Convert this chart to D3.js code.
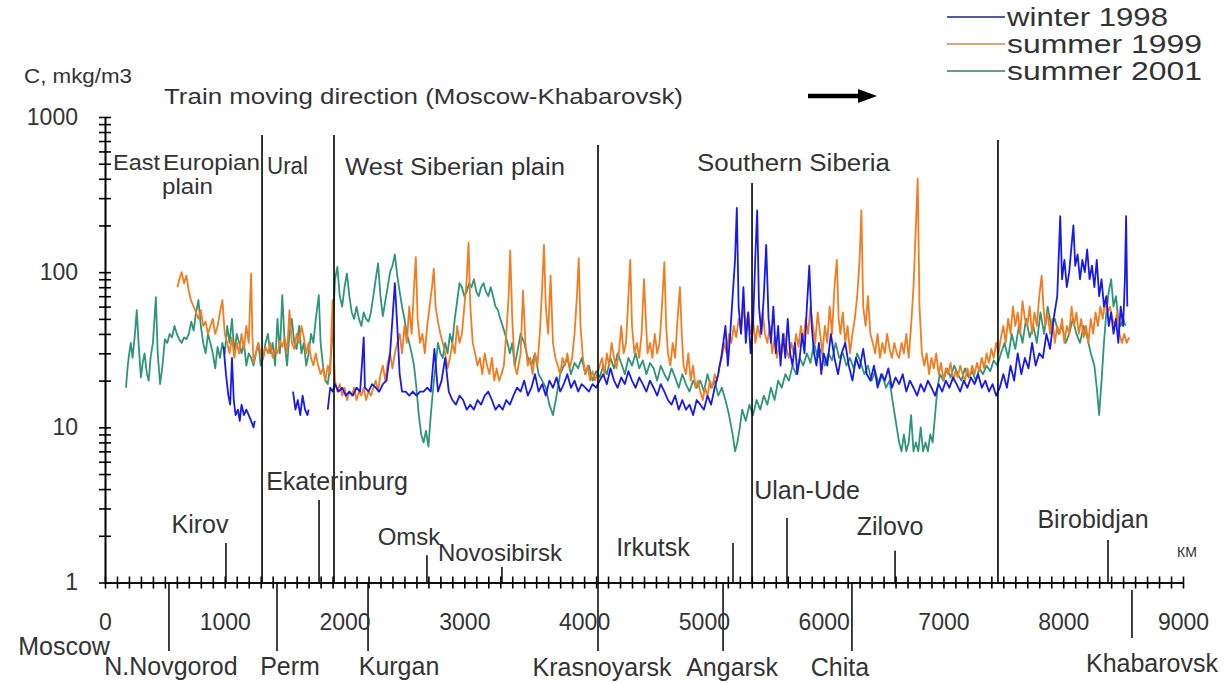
<!DOCTYPE html>
<html><head><meta charset="utf-8">
<script src="https://cdn.jsdelivr.net/npm/d3@7"></script>
<style>
html,body{margin:0;padding:0;background:#fff;}
svg text{font-family:"Liberation Sans",Arial,sans-serif;fill:#333;}
</style></head>
<body>
<svg id="c" width="1228" height="683"></svg>
<script>
// ---------- DATA ----------
const seriesNames = ["winter 1998","summer 1999","summer 2001"];
const xTickLabels = [0,1000,2000,3000,4000,5000,6000,7000,8000,9000];
const yTickLabels = [1,10,100,1000];

// [km, C mkg/m3]; null = gap
const winter1998 = [
[990,33],[1010,22],[1030,16],[1045,14],[1060,28],[1075,15],[1090,12],[1110,13],[1125,11],[1140,14],[1160,12],[1180,13],[1200,12],[1220,11],[1240,10],[1250,11],[1260,null],
[1570,17],[1590,13],[1610,15],[1630,12],[1650,16],[1670,13],[1690,12],[1700,13],[1710,null],
[1860,13],[1880,18],[1900,17],[1920,19],[1950,17],[1980,18],[2010,16],[2040,17],[2070,16],[2100,18],[2130,17],[2160,38],[2170,18],[2200,17],[2230,19],[2260,18],[2290,17],[2320,19],[2350,20],[2380,30],[2400,50],[2420,85],[2440,45],[2460,22],[2480,17],[2510,17],[2540,16],[2570,17],[2600,16],[2630,17],[2660,17],[2690,18],[2720,17],[2750,32],[2780,17],[2810,20],[2840,28],[2870,17],[2900,15],[2930,14],[2960,16],[2990,15],[3020,13],[3050,14],[3080,13],[3110,15],[3140,14],[3170,16],[3200,17],[3230,15],[3260,13],[3290,14],[3320,13],[3350,15],[3380,14],[3410,16],[3440,18],
[3470,17],[3500,20],[3530,16],[3560,18],[3590,22],[3620,17],[3650,19],[3680,16],[3710,20],[3740,18],[3770,21],[3800,17],[3830,19],[3860,22],[3890,18],[3920,20],[3950,17],[3980,19],[4010,18],[4040,17],[4070,19],[4100,18],[4130,20],
[4160,22],[4190,19],[4220,24],[4250,20],[4280,18],[4310,21],[4340,19],[4370,23],[4400,20],[4430,18],[4460,21],[4490,19],[4520,17],[4550,20],[4580,18],[4610,16],[4640,19],[4670,17],[4700,15],[4730,14],[4760,16],[4790,13],[4820,15],[4850,13],[4880,14],[4910,12],[4940,15],
[4970,14],[5000,13],[5030,16],[5060,14],[5090,18],[5120,22],[5150,30],[5180,45],[5200,25],[5220,40],[5240,70],[5260,120],[5275,260],[5290,60],[5310,40],[5330,80],[5350,35],[5370,55],[5390,30],[5410,45],[5430,130],[5445,250],[5460,60],[5480,40],[5500,70],[5520,150],[5540,50],[5560,35],[5580,60],[5600,30],[5620,45],[5640,25],[5660,40],[5680,28],[5700,50],[5720,30],[5740,25],[5760,35],[5780,22],[5800,28],[5820,40],[5840,30],[5860,60],[5880,110],[5900,45],[5920,30],[5940,25],[5960,35],[5980,22],[6000,30],[6030,25],[6060,40],[6090,28],[6120,22],[6150,30],[6180,35],[6210,25],[6240,20],[6270,28],[6300,24],[6330,32],[6360,22],[6390,20],[6420,25],[6450,18],[6480,22],[6510,20],[6540,24],[6570,18],[6600,21],
[6630,19],[6660,22],[6690,17],[6720,20],[6750,18],[6780,16],[6810,19],[6840,17],[6870,20],[6900,18],[6930,16],[6960,19],[6990,17],[7020,20],[7050,18],[7080,21],[7110,19],[7140,17],[7170,20],[7200,18],[7230,21],[7260,19],[7290,22],[7320,18],[7350,20],[7380,17],[7410,19],[7440,16],[7470,18],
[7500,22],[7530,18],[7560,25],[7590,20],[7620,30],[7650,22],[7680,28],[7710,24],[7740,35],[7770,25],[7800,30],[7830,28],[7860,40],[7890,32],[7920,50],[7950,70],
[7975,230],[7990,90],[8010,120],[8030,80],[8050,100],[8070,150],[8085,200],[8100,110],[8120,130],[8140,90],[8160,120],[8180,100],[8200,140],[8220,90],[8240,110],[8260,80],[8280,120],[8300,70],[8320,90],[8340,60],[8360,70],[8380,45],
[8400,55],[8420,40],[8440,50],[8460,35],[8480,60],[8500,45],[8515,90],[8525,230],[8535,60]
];

const summer1999 = [
[605,80],[620,90],[640,100],[660,85],[680,95],[700,75],[720,65],[740,60],[760,55],[780,50],[800,57],[820,45],[840,48],[860,40],[880,45],[900,50],[920,40],[940,45],[960,55],[980,66],[1000,40],[1020,35],[1040,30],[1060,38],[1080,28],[1100,35],[1120,30],[1140,40],[1160,32],[1180,45],[1200,35],[1210,60],[1220,98],[1230,40],[1240,26],[1260,30],
[1280,35],[1300,30],[1320,28],[1340,33],[1360,30],[1380,35],[1400,28],[1420,32],[1440,30],[1460,36],[1480,33],[1500,38],[1520,30],[1540,57],[1560,35],[1580,32],[1600,40],[1620,35],[1640,45],[1660,38],[1680,30],[1700,35],[1720,28],[1740,25],[1760,30],[1780,25],[1800,22],[1820,24],[1840,20],[1860,25],[1880,22],[1890,40],[1900,66],[1910,30],[1920,20],[1940,17],[1960,19],[1980,16],[2000,18],[2020,15],[2040,17],[2060,16],[2080,18],[2100,15],[2120,17],[2140,16],[2160,18],[2180,15],[2200,17],[2220,16],[2240,18],[2260,20],[2280,17],[2300,22],[2320,25],[2340,20],[2360,26],[2380,30],[2400,24],
[2420,30],[2440,35],[2460,40],[2480,30],[2500,45],[2520,35],[2540,60],[2560,40],[2580,80],[2595,125],[2610,50],[2630,35],[2650,40],[2670,30],[2690,45],[2710,60],[2730,80],[2745,105],[2760,60],[2780,48],[2800,40],[2820,35],[2840,30],[2860,24],[2880,28],[2900,35],[2920,30],[2940,45],[2960,35],[2980,40],[3000,60],[3020,90],[3035,155],[3050,60],[3070,35],[3090,30],[3110,25],[3130,28],[3150,22],[3170,30],[3190,25],[3210,22],[3230,28],[3250,20],[3270,24],[3290,20],[3310,22],[3330,25],[3350,40],[3370,70],[3383,138],[3400,50],[3420,25],[3440,22],
[3470,30],[3490,76],[3510,35],[3530,25],[3550,28],[3570,22],[3590,30],[3610,25],[3630,40],[3650,80],[3665,150],[3680,60],[3700,40],[3720,95],[3740,35],[3760,28],[3780,25],[3800,22],[3820,28],[3840,25],[3860,30],[3880,24],[3900,28],[3920,40],[3940,70],[3955,123],[3970,45],[3990,28],[4010,22],[4030,25],[4050,20],[4070,23],[4090,20],[4110,22],[4130,25],
[4150,28],[4170,22],[4190,30],[4210,25],[4230,35],[4250,28],[4270,24],[4290,30],[4310,45],[4330,30],[4350,35],[4370,70],[4385,120],[4400,45],[4420,30],[4440,35],[4460,28],[4480,40],[4500,90],[4515,50],[4530,30],[4550,35],[4570,28],[4590,40],[4610,30],[4630,35],[4650,60],[4670,116],[4685,45],[4700,30],[4720,25],[4740,35],[4760,28],[4780,50],[4800,80],[4815,40],[4830,25],[4850,22],[4870,30],[4890,20],[4910,25],[4930,18],[4950,20],
[4970,17],[4990,15],[5010,18],[5030,16],[5050,20],[5070,18],[5090,22],[5110,20],[5130,25],[5150,28],[5170,35],[5190,30],[5210,40],[5230,35],[5250,45],[5270,38],[5290,50],[5310,42],[5330,60],[5350,45],[5370,55],
[5390,40],[5410,50],[5430,35],[5450,45],[5470,38],[5490,55],[5510,40],[5530,35],[5550,45],[5570,30],[5590,38],[5610,28],[5630,35],[5650,30],[5670,40],[5690,32],[5710,28],[5730,35],[5750,30],[5770,40],[5790,33],
[5810,45],[5830,35],[5850,50],[5870,40],[5890,60],[5910,45],[5930,35],[5950,55],[5970,40],[5990,30],[6010,45],[6030,35],[6050,60],[6070,40],[6090,80],[6110,120],[6125,50],[6140,40],[6160,55],[6180,35],[6200,45],[6220,30],[6240,40],[6260,50],[6280,70],[6300,120],[6315,250],[6330,60],[6350,45],[6370,70],[6390,40],[6410,35],[6430,30],[6450,40],[6470,28],[6490,35],[6510,30],[6530,40],[6550,32],[6570,28],[6590,35],[6610,30],
[6630,28],[6650,35],[6670,30],[6690,40],[6710,28],[6730,45],[6750,80],[6770,200],[6785,400],[6800,60],[6820,30],[6840,25],[6860,30],[6880,22],[6900,28],[6920,24],[6940,30],[6960,22],[6980,26],[7000,20],[7020,24],[7040,22],[7060,26],[7080,20],[7100,23],[7120,21],[7140,25],[7160,22],[7180,20],[7200,24],[7220,21],[7240,25],[7260,22],[7280,26],[7300,23],[7320,28],[7340,24],[7360,30],[7380,26],[7400,32],[7420,28],[7440,35],[7460,30],
[7480,38],[7500,45],[7520,35],[7540,50],[7560,40],[7580,60],[7600,45],[7620,55],[7640,40],[7660,65],[7680,50],[7700,45],[7720,60],[7740,40],[7760,55],[7780,45],[7800,70],[7820,95],[7835,60],[7850,45],[7870,55],[7890,40],[7910,50],[7930,35],[7950,45],[7970,40],[7990,50],[8010,35],[8030,45],[8050,40],[8070,60],[8090,45],[8110,55],[8130,40],[8150,50],[8170,38],[8190,45],[8210,35],[8230,50],[8250,40],[8270,55],[8290,45],[8310,60],[8330,50],[8350,65],[8370,55],[8390,60],[8410,50],[8430,45],[8450,55],[8470,40],[8490,35],[8510,40],[8530,35],[8550,38]
];

const summer2001 = [
[175,18],[190,25],[200,29],[215,35],[230,28],[250,40],[265,57],[280,35],[300,21],[315,26],[330,30],[350,22],[365,20],[380,28],[400,35],[425,69],[440,30],[460,19],[480,25],[500,37],[520,35],[540,40],[560,38],[580,45],[600,40],[620,37],[640,35],[660,38],[680,37],[700,40],[720,48],[740,42],[760,55],[780,66],[800,45],[820,35],[840,30],[860,40],[880,35],[900,30],[920,24],[940,33],[960,28],[980,35],[1000,30],[1020,45],[1040,35],[1060,50],[1080,30],[1100,40],[1120,35],[1140,30],[1160,35],[1180,25],[1200,30],[1220,28],[1240,25],[1260,30],[1280,35],[1300,25],[1320,28],[1340,35],[1360,40],[1380,30],[1400,35],[1420,25],[1440,50],[1460,30],[1480,71],[1500,35],[1520,25],[1540,40],[1560,50],[1580,35],[1600,32],[1620,45],[1640,30],[1660,35],[1680,25],[1700,30],[1720,40],[1740,35],[1760,50],[1785,71],[1800,35],[1820,25],[1840,20],[1860,19],[1880,25],[1900,40],[1920,90],[1940,108],[1960,70],[1980,60],[2000,80],[2020,98],[2040,70],[2060,55],[2080,50],[2100,60],[2120,50],[2140,45],[2160,55],[2180,50],[2200,48],[2220,55],[2240,70],[2260,90],[2280,114],[2300,70],[2320,52],[2340,65],[2360,80],[2380,100],[2400,110],[2420,130],[2440,95],[2460,75],[2480,60],[2500,50],[2520,40],[2540,35],[2560,30],[2580,25],[2600,18],[2620,12],[2640,9],[2660,8],[2680,9.5],[2700,7.5],[2720,12],[2740,18],[2760,25],[2780,35],[2800,30],[2820,28],[2840,35],[2860,30],[2880,40],[2900,35],[2920,50],[2940,65],[2960,85],[2980,80],[3000,70],[3020,75],[3040,85],[3060,80],[3080,90],[3100,75],[3120,70],[3140,80],[3160,85],[3180,75],[3200,70],[3220,80],[3240,70],[3260,60],[3280,57],[3300,50],[3320,45],[3340,40],[3360,35],[3380,30],[3400,35],[3420,25],[3440,30],
[3470,40],[3500,35],[3530,28],[3560,25],[3590,30],[3620,22],[3650,20],[3680,18],[3710,14],[3740,12],[3770,16],[3800,22],[3830,25],[3860,28],[3890,22],[3920,26],[3950,24],[3980,28],[4010,22],[4040,25],[4070,20],[4100,23],[4130,21],
[4160,25],[4190,22],[4220,28],[4250,24],[4280,30],[4310,26],[4340,22],[4370,28],[4400,25],[4430,30],[4460,24],[4490,27],[4520,22],[4550,26],[4580,24],[4610,20],[4640,25],[4670,22],[4700,20],[4730,24],[4760,21],[4790,18],[4820,22],[4850,19],[4880,17],[4910,20],[4940,18],
[4970,20],[5000,17],[5030,22],[5060,18],[5090,20],[5120,16],[5150,18],[5180,15],[5210,12],[5240,9],[5260,7],[5280,8],[5300,10],[5320,13],[5350,11],[5380,14],[5410,12],[5440,15],[5470,13],[5500,16],[5530,14],[5560,18],[5590,15],[5620,20],[5650,18],[5680,22],[5710,20],[5740,25],[5770,22],
[5800,28],[5830,25],[5860,30],[5890,26],[5920,35],[5950,28],[5980,32],[6010,25],[6040,30],[6070,27],[6100,35],[6130,28],[6160,30],[6190,25],[6220,28],[6250,24],[6280,30],[6310,26],[6340,22],[6370,25],[6400,20],[6430,23],[6460,19],[6490,22],[6520,18],[6550,20],[6580,14],[6610,10],
[6630,8],[6650,7],[6670,9],[6690,7],[6710,8],[6730,12],[6750,7],[6770,8],[6790,7],[6810,10],[6830,7],[6850,8],[6870,7],[6890,9],[6910,8],[6930,12],[6950,18],[6970,22],
[7000,20],[7030,24],[7060,21],[7090,25],[7120,22],[7150,20],[7180,24],[7210,21],[7240,23],[7270,20],[7300,24],[7330,22],[7360,25],[7390,23],[7420,27],[7450,25],
[7480,30],[7510,35],[7540,28],[7570,40],[7600,32],[7630,45],[7660,35],[7690,50],[7720,38],[7750,45],[7780,35],[7810,55],[7840,40],[7870,60],[7900,45],[7930,50],[7960,40],[7990,45],[8020,35],[8050,40],[8080,50],[8110,40],[8140,35],[8170,45],[8200,38],[8230,30],[8260,25],[8280,18],[8300,12],[8320,20],[8340,35],[8360,55],[8380,75],[8400,90],[8420,60],[8440,70],[8460,50],[8480,45],[8500,50],[8520,45]
];

// region boundaries: km, top of line (C units)
const regionKm  = [1311, 1912, 4116, 5402, 7455];
const regionTop = [766, 766, 660, 375, 711];
const regionNames = ["East", "Europian", "plain", "Ural", "West Siberian plain", "Southern Siberia"];

// cities: above the axis (marker tip in C units) and below the axis
const citiesAbove = ["Kirov","Ekaterinburg","Omsk","Novosibirsk","Irkutsk","Ulan-Ude","Zilovo","Birobidjan"];
const citiesAboveKm = [1010, 1787, 2688, 3314, 5243, 5694, 6596, 8374];
const citiesAboveTip = [1.80, 3.40, 1.50, 1.26, 1.80, 2.60, 1.60, 1.88];
const citiesBelow = ["N.Novgorod","Perm","Kurgan","Krasnoyarsk","Angarsk","Chita","Khabarovsk"];
const citiesBelowKm = [534, 1436, 2196, 4116, 5160, 6236, 8574];
const citiesBelowFrom = [1, 1, 1, 1, 1, 1, 0.895];
const citiesBelowTo = [0.362, 0.362, 0.362, 0.362, 0.362, 0.362, 0.439];

// ---------- DRAW ----------
const svg = d3.select("#c");
const x = d3.scaleLinear().domain([0, 9000]).range([105, 1183]);
const y = d3.scaleLog().domain([1, 1000]).range([582.5, 117]);
const colors = ["#1a1ae6", "#f07d22", "#2e957a"];
const legendColors = ["#1f1f8c", "#c98a45", "#2d7a6c"];
const FONT = '"Liberation Sans",Arial,sans-serif';

function txt(str, px, py, size, anchor, width) {
  const t = svg.append("text").attr("x", px).attr("y", py)
    .attr("font-size", size).attr("text-anchor", anchor || "start").text(str);
  if (width) t.attr("textLength", width).attr("lengthAdjust", "spacingAndGlyphs");
  return t;
}

// series (green, orange, blue order)
const line = d3.line().defined(d => d[1] != null).x(d => x(d[0])).y(d => y(d[1]));
const allSeries = [winter1998, summer1999, summer2001];
[2, 1, 0].forEach(i => {
  svg.append("path").datum(allSeries[i]).attr("d", line)
    .attr("fill", "none").attr("stroke", colors[i]).attr("stroke-width", 1.8)
    .attr("stroke-linejoin", "round");
});

// region boundary lines
svg.append("g").selectAll("line").data(regionKm).join("line")
  .attr("x1", d => x(d)).attr("x2", d => x(d))
  .attr("y1", (d, i) => y(regionTop[i])).attr("y2", y(1))
  .attr("stroke", "#000").attr("stroke-width", 1.6);

// city markers
svg.append("g").selectAll("line").data(citiesAboveKm).join("line")
  .attr("x1", d => x(d)).attr("x2", d => x(d))
  .attr("y1", (d, i) => y(citiesAboveTip[i])).attr("y2", y(1))
  .attr("stroke", "#000").attr("stroke-width", 1.5);
svg.append("g").selectAll("line").data(citiesBelowKm).join("line")
  .attr("x1", d => x(d)).attr("x2", d => x(d))
  .attr("y1", (d, i) => y(citiesBelowFrom[i])).attr("y2", (d, i) => y(citiesBelowTo[i]))
  .attr("stroke", "#000").attr("stroke-width", 1.5);

// axes with crossing ticks
const xMinor = d3.range(0, 9001, 100);
const yMinor = [];
[1, 10, 100].forEach(b => { for (let k = 1; k < 10; k++) yMinor.push(b * k); });
yMinor.push(1000);

function styleAxis(g) {
  g.selectAll("path,line").attr("stroke", "#000").attr("stroke-width", 1.6);
  g.selectAll("text").attr("font-family", FONT).attr("fill", "#333");
}
svg.append("g").attr("transform", `translate(0,${y(1)})`)
  .call(d3.axisBottom(x).tickValues(xMinor).tickSize(6).tickSizeOuter(0).tickFormat(""))
  .call(styleAxis);
svg.append("g").attr("transform", `translate(0,${y(1)})`)
  .call(d3.axisTop(x).tickValues(xMinor).tickSize(6).tickSizeOuter(0).tickFormat(""))
  .call(styleAxis);
svg.append("g").attr("transform", `translate(0,${y(1)})`)
  .call(d3.axisBottom(x).tickValues(xTickLabels).tickSize(0).tickPadding(31).tickFormat(d3.format("d")))
  .call(g => g.select(".domain").remove())
  .call(styleAxis)
  .selectAll("text").attr("font-size", 23);

svg.append("g").attr("transform", `translate(${x(0)},0)`)
  .call(d3.axisLeft(y).tickValues(yMinor).tickSize(6).tickSizeOuter(0).tickFormat(""))
  .call(styleAxis);
svg.append("g").attr("transform", `translate(${x(0)},0)`)
  .call(d3.axisRight(y).tickValues(yMinor).tickSize(6).tickSizeOuter(0).tickFormat(""))
  .call(styleAxis);
svg.append("g").attr("transform", `translate(${x(0)},0)`)
  .call(d3.axisLeft(y).tickValues(yTickLabels).tickSize(0).tickPadding(27).tickFormat(d3.format("d")))
  .call(g => g.select(".domain").remove())
  .call(styleAxis)
  .selectAll("text").attr("font-size", 23);

// texts
txt("C, mkg/m3", 24, 83, 21, "start", 108);
txt("Train moving direction (Moscow-Khabarovsk)", 164, 104, 22, "start", 519);
txt("\u041A\u041C", 1187, 557, 14, "middle");

// arrow
svg.append("line").attr("x1", 808).attr("x2", 862).attr("y1", 96).attr("y2", 96)
  .attr("stroke", "#000").attr("stroke-width", 4.5);
svg.append("path").attr("d", "M858,89 L877,96 L858,103 Z").attr("fill", "#000");

// region labels
txt(regionNames[0], 113, 170, 22, "start", 47);
txt(regionNames[1], 163, 170, 22, "start", 97);
txt(regionNames[2], 162, 194, 22, "start", 51);
txt(regionNames[3], 267, 174, 23, "start", 41);
txt(regionNames[4], 345, 175, 23, "start", 220);
txt(regionNames[5], 697, 171, 23, "start", 193);

// city labels
const aboveDx = [-26, 18, -18, -2, -80, 20, -5, -15];
const aboveBase = [533, 490, 545, 561, 556, 499, 535, 528];
const aboveSize = [25, 25, 24, 24, 25, 25, 25, 25];
citiesAbove.forEach((c, i) => txt(c, x(citiesAboveKm[i]) + aboveDx[i], aboveBase[i], aboveSize[i], "middle"));
const belowDx = [2, 13, 31, 4, 9, -12, 20];
const belowBase = [675, 675, 675, 676, 676, 676, 672];
citiesBelow.forEach((c, i) => txt(c, x(citiesBelowKm[i]) + belowDx[i], belowBase[i], 25, "middle"));
txt("Moscow", 64, 655, 25, "middle");

// legend
seriesNames.forEach((s, i) => {
  const ly = [17, 44, 71][i];
  svg.append("line").attr("x1", 947).attr("x2", 1005).attr("y1", ly).attr("y2", ly)
    .attr("stroke", legendColors[i]).attr("stroke-width", 1.6);
  txt(s, 1007, ly + 9, 25, "start", [161, 195, 195][i]);
});
</script>
</body></html>
